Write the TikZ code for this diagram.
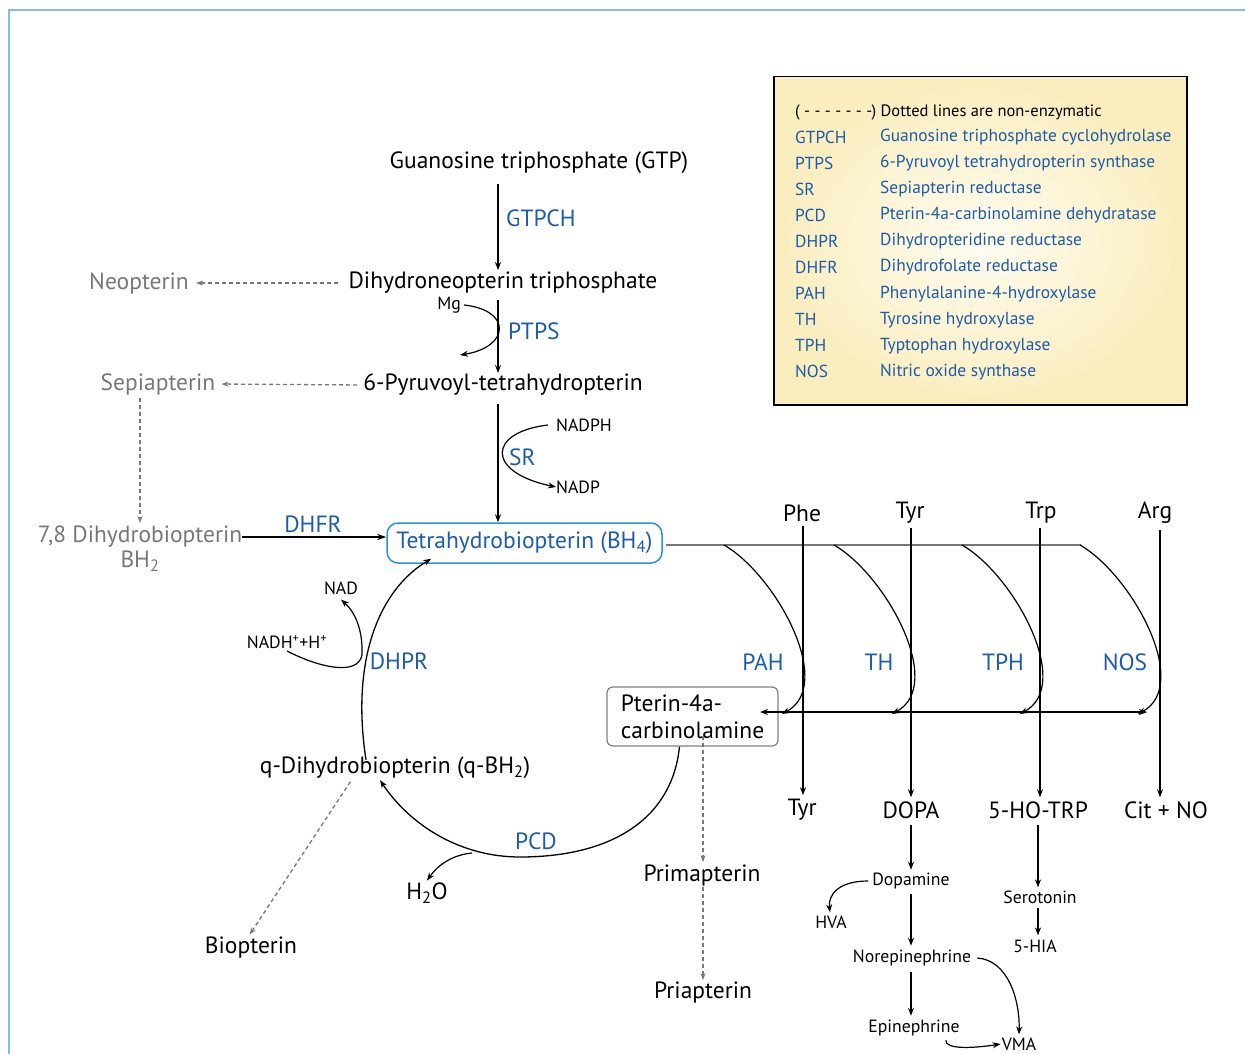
\documentclass[tikz,border=0pt]{standalone}
\usepackage{fontspec}
\setmainfont{PT Sans}
\usetikzlibrary{arrows.meta}
\definecolor{eblue}{HTML}{1C5CA8}
\definecolor{bbox}{HTML}{2A93D5}
\definecolor{gtxt}{HTML}{777777}
\definecolor{frameblue}{HTML}{88BBE4}
\definecolor{legout}{HTML}{FAEDBE}
\definecolor{legin}{HTML}{FFFCF0}
\begin{document}
\begin{tikzpicture}[x=1pt,y=-1pt,
  every node/.style={inner sep=0pt, yshift=-2pt, font=\fontsize{23.5}{26}\selectfont},
  enz/.style={text=eblue},
  grey/.style={text=gtxt},
  small/.style={font=\fontsize{17.7}{20}\selectfont},
  leg/.style={anchor=west, font=\fontsize{17.4}{20}\selectfont},
  arr/.style={-{Stealth[length=8pt,width=6pt]}, line width=1.3pt},
  darr/.style={-{Stealth[length=7pt,width=5pt]}, draw=gtxt, line width=1.3pt, dash pattern=on 4pt off 3pt},
]
\useasboundingbox (0,0) rectangle (1245,1054);
\draw[frameblue, line width=2.5pt] (9,1054) -- (9,10) -- (1245,10);

% legend
\node[draw, yshift=2pt, line width=1.5pt, inner color=legin, outer color=legout, minimum width=413, minimum height=328, anchor=north west] (legend) at (773,76) {};
\node[leg, font=\fontsize{16.5}{19}\selectfont] (lh) at (795,110) {( - - - - - - -) Dotted lines are non-enzymatic};
\foreach \a/\b [count=\i from 0] in {GTPCH/Guanosine triphosphate cyclohydrolase, PTPS/6-Pyruvoyl tetrahydropterin synthase, SR/Sepiapterin reductase, PCD/Pterin-4a-carbinolamine dehydratase, DHPR/Dihydropteridine reductase, DHFR/Dihydrofolate reductase, PAH/Phenylalanine-4-hydroxylase, TH/Tyrosine hydroxylase, TPH/Typtophan hydroxylase, NOS/Nitric oxide synthase}{
  \node[leg, enz] (la\i) at (795,135+26.1*\i) {\a};
  \node[leg, enz] (lb\i) at (880,135+26.1*\i) {\b};
}

% main column
\coordinate (col) at (498,0);
\node (gtp) at (539,161) {Guanosine triphosphate (GTP)};
\node (dnt) at (503,281) {Dihydroneopterin triphosphate};
\node[grey] (neo) at (139,281) {Neopterin};
\node (pyr) at (503,383) {6-Pyruvoyl-tetrahydropterin};
\node[grey] (sep) at (158,382) {Sepiapterin};
\node[grey] (dhb) at (140,535) {7,8 Dihydrobiopterin};
\node[grey] (dhbs) at (140,559) {BH\textsubscript{2}};
\node[draw=bbox, yshift=2pt, rounded corners=11pt, line width=1.5pt, text=eblue, minimum width=275, minimum height=40] (bh4) at (524.5,543) {Tetrahydrobiopterin (BH\textsubscript{4})};

\draw[arr, shorten <=10pt, shorten >=2pt] (gtp.south -| col) -- (dnt.north -| col);
\node[enz, anchor=west] (gtpch) at (506,216) {GTPCH};
\draw[arr, shorten <=6pt, shorten >=1pt] (dnt.south -| col) -- (pyr.north -| col);
\node[enz, anchor=west] (ptps) at (508,329) {PTPS};
\node[small] (mg) at (449,303) {Mg};
\draw[arr, line width=1.2pt] ([xshift=3]mg.east) .. controls (512,310) and (510,347) .. (460,355);
\draw[arr, shorten <=8pt, shorten >=0pt] (pyr.south -| col) -- (bh4.north -| col);
\node[enz, anchor=west] (sr) at (509,455) {SR};
\node[small, anchor=west] (nadph) at (556,423) {NADPH};
\node[small, anchor=west] (nadp) at (556,485) {NADP};
\draw[arr, line width=1.2pt] ([xshift=-8]nadph.west) .. controls (488,432) and (485,472) .. (nadp.west);

\draw[darr, shorten <=10pt, shorten >=7pt] (dnt.west) -- (neo.east);
\draw[darr, shorten <=6pt, shorten >=6pt] (pyr.west) -- (sep.east);
\draw[darr, shorten <=3pt, shorten >=3pt] (sep.south -| dhb) -- (dhb.north);
\draw[arr, line width=1.6pt, -{Stealth[length=9pt,width=6pt]}] (dhb.east) -- (dhb.east -| bh4.west);
\node[enz] (dhfr) at (313,522) {DHFR};

% recycling
\node (qbh) at (395,766) {q-Dihydrobiopterin (q-BH\textsubscript{2})};
\node (h2o) at (427,891) {H\textsubscript{2}O};
\node (bio) at (251,946) {Biopterin};
\node[small] (nad) at (341,586) {NAD};
\node[small] (nadhh) at (287,640) {NADH\textsuperscript{+}+H\textsuperscript{+}};
\node[enz] (dhpr) at (399,659) {DHPR};
\node[enz] (pcd) at (536,839) {PCD};
\draw[arr, line width=1.3pt] ([xshift=-29,yshift=-3]qbh.north) .. controls (350,655) and (382,588) .. ([xshift=45,yshift=5]bh4.south west);
\draw[arr, line width=1.2pt] (287,651) .. controls (320,668) and (358,676) .. (362,655) .. controls (363,630) and (355,612) .. ([yshift=-5]nad.south);
\draw[darr, shorten <=3pt, shorten >=3pt] ([xshift=-43]qbh.south) -- ([xshift=-3]bio.north);

\node[draw=gray, yshift=2pt, rounded corners=6pt, line width=1.2pt, minimum width=171, minimum height=59, align=left, font=\fontsize{23.5}{27}\selectfont] (pterin) at (692.5,716.5) {Pterin-4a-\\carbinolamine};
\draw[arr, line width=1.3pt] ([xshift=-13]pterin.south) .. controls (672,820) and (610,857) .. (520,857) .. controls (460,857) and (410,825) .. ([xshift=-15,yshift=-1]qbh.south);
\draw[arr, line width=1.2pt] (472,853) .. controls (452,855) and (438,865) .. ([yshift=2]h2o.north);

\node (prim) at (702,874) {Primapterin};
\node (pria) at (703,991) {Priapterin};
\draw[darr, shorten >=3pt] ([yshift=11]pterin.south -| pria) -- (prim.north -| pria);
\draw[darr, shorten >=2pt] (prim.south -| pria) -- (pria.north);

% right part
\node (phe) at (802,511) {Phe};
\node (tyr) at (910,511) {Tyr};
\node (trp) at (1041,511) {Trp};
\node (arg) at (1155,511) {Arg};
\node (ptyr) at (802,808) {Tyr};
\node (dopa) at (911,808) {DOPA};
\node (hotrp) at (1038,808) {5-HO-TRP};
\node (citno) at (1166,808) {Cit + NO};

\draw[line width=2pt, gtxt] ([xshift=3]bh4.east |- 0,545) -- (1081,545);
\foreach \s in {724,834,962,1080}{
  \draw[arr, line width=1.2pt] (\s,545) .. controls (\s+52,575) and (\s+112,685) .. (\s+58,714);
}
\draw[{Stealth[length=8pt,width=6pt]}-{Stealth[length=8pt,width=6pt]}, line width=1.6pt] (760,712) -- (1147,712);

\draw[arr, shorten <=4pt, shorten >=4pt] (phe.south -| 803,0) -- (ptyr.north -| 803,0);
\draw[arr, shorten <=4pt, shorten >=4pt] (tyr.south -| 911,0) -- (dopa.north -| 911,0);
\draw[arr, shorten <=4pt, shorten >=4pt] (trp.south -| 1040,0) -- (hotrp.north -| 1040,0);
\draw[arr, shorten <=6pt, shorten >=4pt] (arg.south -| 1160,0) -- (citno.north -| 1160,0);
\node[enz] (pah) at (763,660) {PAH};
\node[enz] (th) at (879,660) {TH};
\node[enz] (tph) at (1003,660) {TPH};
\node[enz] (nos) at (1125,660) {NOS};

\node[small] (dopam) at (911,879) {Dopamine};
\node[small] (hva) at (831,920) {HVA};
\node[small] (nore) at (912,956) {Norepinephrine};
\node[small] (epi) at (914,1026) {Epinephrine};
\node[small] (vma) at (1019,1042) {VMA};
\node[small] (sero) at (1040,895) {Serotonin};
\node[small] (hia) at (1035,944) {5-HIA};
\draw[arr, shorten <=6pt, shorten >=3pt] (dopa.south -| 911,0) -- (dopam.north -| 911,0);
\draw[arr, shorten <=5pt, shorten >=4pt] (dopam.south -| 911,0) -- (nore.north -| 911,0);
\draw[arr, shorten <=6pt, shorten >=4pt] (nore.south -| 911,0) -- (epi.north -| 911,0);
\draw[arr, line width=1.2pt] ([xshift=-4]dopam.west) .. controls (838,881) and (828,895) .. ([xshift=-1,yshift=3]hva.north);
\draw[arr, line width=1.2pt] ([xshift=6]nore.east) .. controls (1008,960) and (1020,1000) .. ([yshift=3]vma.north);
\draw[arr, line width=1.2pt] ([xshift=-14,yshift=-4]epi.south east) .. controls (945,1050) and (975,1048) .. ([xshift=-1]vma.west);
\draw[arr, shorten <=6pt, shorten >=3pt] (hotrp.south -| 1038,0) -- (sero.north -| 1038,0);
\draw[arr, shorten <=4pt, shorten >=4pt] (sero.south -| 1038,0) -- (hia.north -| 1038,0);
\end{tikzpicture}
\end{document}
